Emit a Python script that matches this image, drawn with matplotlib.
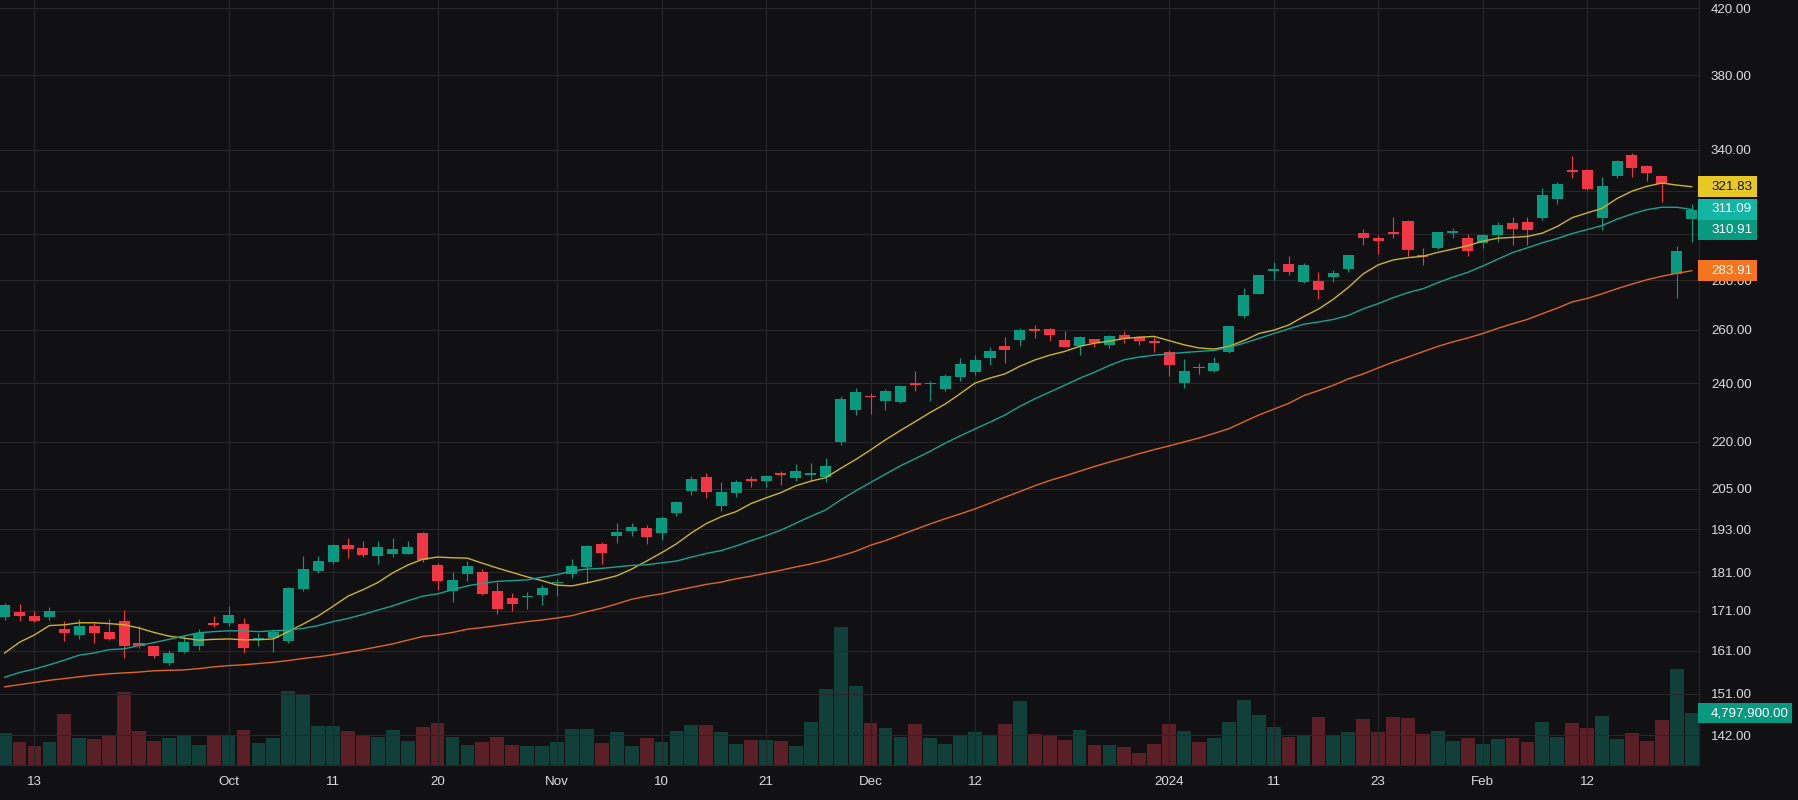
import matplotlib
matplotlib.use("Agg")
import matplotlib.pyplot as plt
import numpy as np
import pandas as pd
from matplotlib.patches import Rectangle
from matplotlib.transforms import IdentityTransform
from matplotlib.ticker import FixedLocator, NullLocator, FuncFormatter

plt.rcParams['font.family'] = ['Liberation Sans', 'DejaVu Sans']

# ---------------- data ----------------
holidays = ["2023-11-23", "2023-12-25", "2024-01-01", "2024-01-15", "2024-02-19"]
dates = pd.bdate_range("2023-09-11", "2024-02-22")
dates = dates[~dates.isin(pd.to_datetime(holidays))]

opens = [169.4, 170.6, 169.6, 169.3, 166.3, 164.9, 167.1, 165.6, 168.3, 162.8,
         162.1, 158.1, 160.8, 162.1, 167.8, 167.8, 167.6, 163.6, 164.1, 163.3,
         176.6, 181.4, 183.9, 188.6, 187.8, 185.6, 186.1, 186.1, 192.0, 183.1,
         176.0, 180.7, 181.2, 176.1, 174.3, 174.4, 174.9, 178.1, 180.7, 182.6,
         188.9, 191.0, 192.4, 193.5, 192.1, 197.9, 204.5, 208.7, 199.8, 203.9,
         208.1, 207.6, 209.9, 208.5, 209.4, 208.8, 219.9, 230.7, 235.6, 233.9,
         233.5, 240.2, 239.6, 238.1, 242.3, 244.2, 249.3, 253.8, 256.1, 260.3,
         260.3, 256.1, 253.8, 256.5, 254.3, 258.0, 257.2, 255.7, 251.6, 240.0,
         246.0, 244.5, 251.6, 265.4, 274.3, 283.6, 286.8, 279.0, 279.7, 281.4,
         284.7, 300.5, 298.2, 300.5, 305.8, 290.7, 293.7, 300.5, 298.2, 295.7,
         299.6, 304.9, 305.4, 307.3, 315.8, 330.0, 329.7, 307.3, 327.1, 337.5,
         332.0, 327.1, 282.6, 306.8]
highs = [172.9, 172.7, 170.8, 171.9, 168.3, 168.8, 167.8, 168.8, 171.1, 167.1,
         162.2, 161.1, 164.8, 166.3, 169.6, 172.1, 169.1, 165.3, 166.3, 177.1,
         185.6, 185.6, 188.9, 190.6, 189.8, 189.8, 190.6, 189.8, 192.3, 183.7,
         181.2, 184.1, 182.0, 178.5, 175.6, 175.9, 177.7, 179.3, 184.7, 188.6,
         189.4, 194.9, 194.9, 194.3, 196.9, 201.4, 209.0, 209.9, 207.2, 207.8,
         209.0, 209.3, 210.6, 212.8, 213.1, 214.7, 235.6, 238.4, 236.6, 238.1,
         239.1, 244.5, 240.9, 243.4, 249.3, 250.4, 253.4, 257.2, 260.7, 261.8,
         260.7, 259.5, 257.6, 256.6, 258.0, 259.5, 257.6, 257.2, 252.3, 249.0,
         247.5, 249.7, 261.4, 276.7, 282.3, 287.7, 290.3, 287.2, 283.5, 284.3,
         290.8, 302.3, 299.6, 307.7, 306.3, 293.7, 301.0, 302.7, 300.1, 300.1,
         305.4, 307.7, 307.7, 321.0, 323.9, 337.0, 330.5, 326.6, 335.0, 338.5,
         332.5, 327.2, 294.7, 313.5]
lows = [168.7, 168.3, 168.2, 168.7, 163.3, 163.8, 162.8, 163.7, 159.2, 161.8,
        159.2, 157.6, 160.6, 161.3, 166.8, 167.1, 160.6, 162.1, 160.8, 162.8,
        176.1, 180.8, 183.3, 185.0, 185.3, 183.3, 185.3, 186.0, 183.9, 176.2,
        173.1, 178.8, 174.9, 170.0, 171.0, 171.5, 172.3, 174.7, 179.6, 178.3,
        183.4, 189.2, 191.0, 188.9, 190.1, 197.0, 203.1, 202.4, 198.5, 202.7,
        205.7, 205.7, 206.2, 207.6, 207.6, 207.0, 218.9, 229.0, 229.3, 230.7,
        233.2, 237.4, 233.9, 237.4, 240.9, 243.1, 246.7, 247.5, 253.8, 256.8,
        255.7, 253.3, 250.4, 253.4, 253.0, 255.0, 254.3, 251.6, 242.7, 238.4,
        243.4, 244.2, 251.2, 264.6, 274.2, 280.1, 282.2, 278.9, 272.2, 279.0,
        283.5, 295.1, 291.1, 298.2, 290.3, 286.4, 293.3, 298.2, 290.3, 293.7,
        296.4, 295.1, 295.1, 306.3, 313.5, 326.1, 320.3, 301.8, 326.1, 326.6,
        324.6, 314.6, 272.6, 296.4]
closes = [172.4, 169.6, 168.3, 170.8, 165.3, 167.1, 165.3, 163.8, 162.3, 162.3,
          159.7, 160.6, 163.1, 165.3, 167.3, 169.8, 161.8, 164.1, 165.6, 176.9,
          181.9, 184.2, 188.6, 187.5, 185.8, 188.1, 187.5, 188.1, 184.4, 178.6,
          179.0, 182.8, 175.2, 171.5, 172.6, 174.6, 176.9, 178.5, 182.8, 188.3,
          186.4, 192.3, 193.8, 190.7, 196.4, 201.1, 208.1, 204.2, 204.1, 207.2,
          207.6, 209.0, 209.4, 210.6, 209.9, 212.2, 234.5, 237.0, 235.0, 237.4,
          239.1, 239.3, 240.2, 242.7, 247.1, 248.6, 251.9, 252.3, 259.9, 259.6,
          258.0, 253.4, 257.2, 255.0, 257.7, 256.5, 255.7, 255.0, 246.7, 244.5,
          245.4, 247.5, 261.4, 273.9, 282.2, 284.7, 283.2, 286.4, 276.0, 283.0,
          290.7, 298.2, 296.9, 300.1, 293.0, 289.8, 300.9, 301.4, 292.2, 299.6,
          303.9, 302.2, 301.8, 317.7, 322.9, 329.2, 320.8, 322.4, 334.5, 331.0,
          328.5, 322.9, 292.5, 310.91]
volume_m = [2.95, 2.12, 1.75, 2.12, 4.71, 2.49, 2.40, 2.77, 6.74, 3.14,
            2.21, 2.49, 2.68, 1.85, 2.68, 2.77, 3.23, 2.03, 2.49, 6.83,
            6.55, 3.60, 3.60, 3.14, 2.68, 2.58, 3.23, 2.21, 3.51, 3.88,
            2.58, 1.85, 2.12, 2.58, 1.85, 1.75, 1.75, 2.12, 3.32, 3.32,
            2.03, 3.04, 1.75, 2.49, 2.12, 3.14, 3.69, 3.69, 3.04, 1.94,
            2.31, 2.31, 2.21, 1.75, 3.97, 7.01, 12.73, 7.29, 3.88, 3.41,
            2.58, 3.78, 2.49, 1.94, 2.77, 3.04, 2.71, 3.78, 5.91, 2.86,
            2.77, 2.31, 3.23, 1.85, 1.85, 1.66, 1.11, 1.94, 3.78, 3.14,
            2.12, 2.49, 3.97, 6.00, 4.61, 3.51, 2.58, 2.77, 4.43, 2.77,
            3.04, 4.24, 3.04, 4.43, 4.34, 2.86, 3.14, 2.21, 2.49, 1.94,
            2.40, 2.49, 2.12, 3.97, 2.58, 3.88, 3.41, 4.52, 2.40, 2.95,
            2.21, 4.15, 8.86, 4.7979]
ma_fast = [160.5, 163.1, 164.9, 167.2, 167.4, 167.9, 167.9, 167.7, 167.4, 166.6,
           165.5, 164.6, 164.1, 163.6, 163.8, 163.9, 163.7, 163.7, 163.9, 165.7,
           167.6, 169.6, 172.1, 174.7, 176.4, 178.3, 180.9, 183.0, 184.6, 185.2,
           185.0, 184.9, 183.5, 182.2, 181.0, 179.8, 178.8, 177.6, 177.4, 178.2,
           179.1, 180.1, 181.9, 184.1, 186.4, 188.9, 192.0, 194.7, 196.7, 198.2,
           200.6, 202.3, 203.9, 206.0, 207.4, 208.5, 211.4, 214.2, 217.3, 220.6,
           223.7, 226.7, 229.8, 232.7, 236.3, 240.1, 241.9, 243.4, 246.2, 248.5,
           250.3, 251.7, 253.6, 254.8, 255.6, 256.6, 257.1, 257.4, 255.8, 254.2,
           253.0, 252.6, 253.6, 255.8, 258.5, 259.8, 261.8, 265.1, 268.1, 272.1,
           276.9, 282.6, 286.4, 288.5, 289.5, 290.1, 291.8, 293.2, 294.7, 296.7,
           298.0, 298.4, 298.8, 300.3, 303.3, 307.3, 309.5, 311.6, 316.2, 319.7,
           322.0, 323.6, 322.6, 321.83]
ma_mid = [154.8, 155.9, 156.7, 157.7, 158.8, 160.0, 160.5, 161.3, 161.5, 162.3,
          163.0, 163.8, 164.6, 165.4, 165.7, 165.9, 165.9, 165.7, 165.9, 166.1,
          166.5, 167.2, 168.2, 169.0, 170.0, 171.1, 172.2, 173.5, 174.7, 175.3,
          176.4, 177.4, 178.1, 178.6, 178.8, 179.0, 179.7, 180.4, 181.4, 181.9,
          182.1, 182.5, 182.9, 183.1, 183.6, 184.1, 185.2, 186.2, 187.0, 188.3,
          189.8, 191.2, 192.8, 194.8, 196.8, 198.7, 201.7, 204.4, 207.0, 209.6,
          212.2, 214.5, 216.9, 219.5, 221.9, 224.2, 226.5, 228.9, 231.9, 234.5,
          236.9, 239.3, 241.8, 244.0, 246.5, 248.6, 249.6, 250.3, 250.8, 251.3,
          251.7, 252.1, 253.2, 254.8, 256.6, 258.5, 260.3, 262.1, 263.0, 264.0,
          265.6, 268.2, 270.3, 272.7, 274.8, 276.4, 278.9, 281.2, 283.2, 285.9,
          288.8, 291.7, 293.8, 296.0, 297.9, 300.1, 301.9, 303.7, 306.6, 309.0,
          311.0, 312.1, 312.1, 311.09]
ma_slow = [152.6, 153.1, 153.6, 154.1, 154.5, 154.9, 155.3, 155.6, 155.8, 156.0,
           156.3, 156.4, 156.5, 156.8, 157.2, 157.5, 157.7, 158.0, 158.3, 158.7,
           159.2, 159.6, 160.1, 160.7, 161.3, 162.0, 162.7, 163.6, 164.5, 164.9,
           165.5, 166.3, 166.7, 167.2, 167.7, 168.2, 168.6, 169.1, 169.7, 170.7,
           171.6, 172.7, 173.9, 174.7, 175.3, 176.2, 177.0, 177.8, 178.4, 179.3,
           180.0, 180.8, 181.6, 182.5, 183.3, 184.3, 185.5, 186.8, 188.5, 189.8,
           191.4, 193.0, 194.6, 196.1, 197.5, 199.0, 200.7, 202.5, 204.2, 206.0,
           207.6, 209.0, 210.5, 212.0, 213.4, 214.7, 216.1, 217.4, 218.6, 219.9,
           221.2, 222.7, 224.3, 226.6, 228.9, 230.9, 232.9, 235.6, 237.4, 239.3,
           241.6, 243.4, 245.6, 247.7, 249.6, 251.6, 253.6, 255.3, 256.8, 258.5,
           260.5, 262.3, 264.0, 266.3, 268.5, 271.0, 272.4, 274.3, 276.4, 278.3,
           280.1, 281.6, 282.8, 283.91]

tick_dates = ["2023-09-13", "2023-10-02", "2023-10-11", "2023-10-20", "2023-11-01",
              "2023-11-10", "2023-11-21", "2023-12-01", "2023-12-12", "2024-01-02",
              "2024-01-11", "2024-01-23", "2024-02-01", "2024-02-12"]
tick_labels = ["13", "Oct", "11", "20", "Nov", "10", "21", "Dec", "12", "2024",
               "11", "23", "Feb", "12"]
price_ticks = [142, 151, 161, 171, 181, 193, 205, 220, 240, 260, 280, 300,
               320, 340, 380, 420]
hidden_price_labels = [300, 320]   # covered by the value labels in the reference

# ---------------- style ----------------
BG = '#111114'
GRID = '#27272b'
TXT = '#dcdcdc'
UP = '#089981'
DN = '#f23645'
VUP = '#113f3a'
VDN = '#5a1f27'
C_FAST = '#cdb427'
C_MID = '#17a293'
C_SLOW = '#e2661c'
L_FAST = '#e8c923'
L_MID = '#15b5a4'
L_SLOW = '#f47420'
FS = 9.6

W, H = 1798, 800
fig = plt.figure(figsize=(W / 100, H / 100), dpi=100, facecolor=BG)
rect = [0, 35 / H, 1699 / W, 765 / H]

o = np.array(opens); h = np.array(highs); l = np.array(lows); c = np.array(closes)
x = np.arange(len(dates))
up = c >= o
xlim = (-0.31, 113.49)

# volume axes (underneath)
axv = fig.add_axes(rect)
axv.set_facecolor(BG)
axv.bar(x, volume_m, width=0.925, color=np.where(up, VUP, VDN), linewidth=0, zorder=2)
axv.set_xlim(*xlim)
axv.set_ylim(0, 70.6)
axv.axis('off')

# price axes on top
ax = fig.add_axes(rect)
ax.patch.set_alpha(0)
ax.set_yscale('log')
ax.set_xlim(*xlim)
ax.set_ylim(135.8, 425.2)

tick_pos = [dates.get_loc(pd.Timestamp(d)) for d in tick_dates]
ax.set_xticks(tick_pos)
ax.set_xticklabels(tick_labels)
ax.yaxis.set_major_locator(FixedLocator(price_ticks))
ax.yaxis.set_minor_locator(NullLocator())
ax.yaxis.set_major_formatter(FuncFormatter(
    lambda v, p: "" if round(v) in hidden_price_labels else f"{v:.2f}"))
ax.yaxis.tick_right()
ax.tick_params(axis='y', length=0, pad=8.6, labelsize=FS, labelcolor=TXT)
ax.tick_params(axis='x', length=0, pad=8.2, labelsize=FS, labelcolor=TXT)
ax.grid(True, color=GRID, linewidth=0.75, zorder=0)
ax.set_axisbelow(True)
for s in ['top', 'left']:
    ax.spines[s].set_visible(False)
for s in ['right', 'bottom']:
    ax.spines[s].set_color(GRID)
    ax.spines[s].set_linewidth(0.9)

cols = np.where(up, UP, DN)
ax.vlines(x, l, h, colors=cols, linewidth=0.8, zorder=3)
body_h = np.maximum(np.abs(c - o), c * 0.0017)
ax.bar(x, body_h, bottom=np.minimum(o, c), width=0.74, color=cols, linewidth=0, zorder=4)

ax.plot(x, ma_fast, color=C_FAST, lw=1.0, zorder=5)
ax.plot(x, ma_mid, color=C_MID, lw=1.0, zorder=5)
ax.plot(x, ma_slow, color=C_SLOW, lw=1.0, zorder=5)

# ---------------- right-side value labels ----------------
fig.canvas.draw()
labels = [(ma_fast[-1], L_FAST, '#141414'),
          (ma_mid[-1], L_MID, 'white'),
          (closes[-1], UP, 'white'),
          (ma_slow[-1], L_SLOW, 'white')]
bh = 20.5
placed = []
for val, col, tc in labels:
    yd = ax.transData.transform((0, val))[1]
    placed.append([yd, col, tc, f"{val:.2f}"])
placed.sort(key=lambda r: -r[0])
for k in range(1, len(placed)):
    if placed[k - 1][0] - placed[k][0] < bh:
        placed[k][0] = placed[k - 1][0] - bh
x0 = 1698
for yd, col, tc, txt in placed:
    fig.add_artist(Rectangle((x0, yd - bh / 2), 59, bh, transform=IdentityTransform(),
                             facecolor=col, edgecolor='none', zorder=10))
    fig.text((x0 + 13) / W, yd / H, txt, color=tc, fontsize=FS, ha='left', va='center',
             zorder=11)

vy = axv.transData.transform((0, volume_m[-1]))[1]
fig.add_artist(Rectangle((x0, vy - 10), 94, 20, transform=IdentityTransform(),
                         facecolor=UP, edgecolor='none', zorder=10))
fig.text((x0 + 13) / W, vy / H, f"{volume_m[-1] * 1e6:,.2f}", color='white', fontsize=FS,
         ha='left', va='center', zorder=11)

fig.savefig('out.png', dpi=100, facecolor=BG)
